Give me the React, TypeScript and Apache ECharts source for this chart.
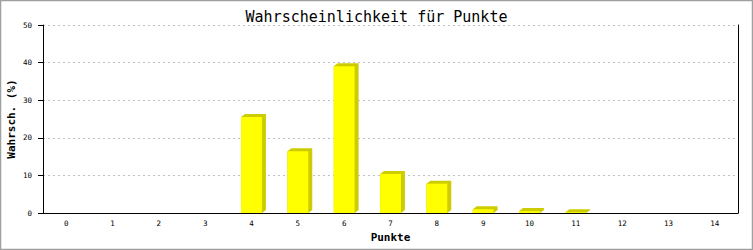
import React, { useEffect, useRef } from "react";
import * as echarts from "echarts";

const categories = ["0", "1", "2", "3", "4", "5", "6", "7", "8", "9", "10", "11", "12", "13", "14"];
const probabilities = [0, 0, 0, 0, 25.5, 16.4, 39.0, 10.4, 7.8, 1.0, 0.5, 0.2, 0, 0, 0];
const yTicks = { min: 0, max: 50, interval: 10 };

const FONT = "DejaVu Sans Mono";

export default function App() {
  const ref = useRef<HTMLDivElement>(null);
  useEffect(() => {
    if (!ref.current) return;
    const chart = echarts.init(ref.current, null, { renderer: "svg" });
    const data = categories.map((c, i) => [i, probabilities[i]]);
    chart.setOption({
      animation: false,
      backgroundColor: "#ffffff",
      title: {
        text: "Wahrscheinlichkeit für Punkte",
        left: "center",
        top: 4,
        textStyle: { fontFamily: FONT, fontSize: 15, fontWeight: "normal", color: "#000" },
      },
      grid: { left: 43, right: 15, top: 25, bottom: 37, containLabel: false, outerBoundsMode: "none" },
      xAxis: {
        type: "category",
        data: categories,
        name: "Punkte",
        nameLocation: "middle",
        nameGap: 19,
        nameMoveOverlap: false,
        nameTextStyle: { fontFamily: FONT, fontSize: 11, fontWeight: "bold", color: "#000" },
        axisLine: { lineStyle: { color: "#000", width: 1 } },
        axisTick: { show: false },
        axisLabel: { fontFamily: FONT, fontSize: 7.5, color: "#000", margin: 6 },
        splitLine: { show: false },
      },
      yAxis: [
        {
          type: "value",
          min: yTicks.min,
          max: yTicks.max,
          interval: yTicks.interval,
          name: "Wahrsch. (%)",
          nameLocation: "middle",
          nameGap: 26,
          nameMoveOverlap: false,
          nameTextStyle: { fontFamily: FONT, fontSize: 11, fontWeight: "bold", color: "#000" },
          axisLine: { show: true, lineStyle: { color: "#000", width: 1 } },
          axisTick: { show: true, length: 5, lineStyle: { color: "#000" } },
          axisLabel: { fontFamily: FONT, fontSize: 7.5, color: "#000", margin: 11 },
          splitLine: { show: true, lineStyle: { color: "#c0c0c0", type: [2, 3], width: 1 } },
        },
        {
          type: "value",
          position: "right",
          min: yTicks.min,
          max: yTicks.max,
          interval: yTicks.interval,
          axisLine: { show: true, lineStyle: { color: "#000", width: 1 } },
          axisTick: { show: false },
          axisLabel: { show: false },
          splitLine: { show: false },
        },
      ],
      graphic: [
        {
          type: "rect",
          shape: { x: 0.5, y: 0.5, width: 752, height: 249 },
          style: { fill: "none", stroke: "#a0a0a0", lineWidth: 1.5 },
          silent: true,
        },
      ],
      series: [
        {
          type: "custom",
          data,
          encode: { x: 0, y: 1 },
          renderItem: (params: any, api: any) => {
            const v = api.value(1);
            if (!v) return null;
            const top = api.coord([api.value(0), v]);
            const base = api.coord([api.value(0), 0]);
            const w = api.size([1, 0])[0] * 0.45;
            const x = top[0] - w / 2;
            const y = top[1];
            const b = base[1];
            const dx = 4;
            const dy = 3;
            return {
              type: "group",
              children: [
                {
                  type: "polygon",
                  shape: {
                    points: [
                      [x, y],
                      [x + dx, y - dy],
                      [x + w + dx, y - dy],
                      [x + w + dx, b - dy],
                      [x + w, b],
                      [x, b],
                    ],
                  },
                  style: { fill: "#cccc00" },
                },
                {
                  type: "rect",
                  shape: { x, y, width: w, height: b - y },
                  style: { fill: "#ffff00" },
                },
              ],
            };
          },
        },
      ],
    });
    return () => chart.dispose();
  }, []);
  return (
    <div
      ref={ref}
      style={{ position: "fixed", left: 0, top: 0, width: 753, height: 250 }}
    />
  );
}
